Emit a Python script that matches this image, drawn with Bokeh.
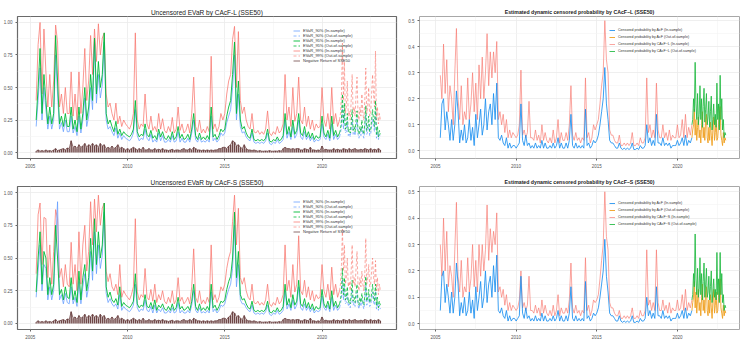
import numpy as np
from bokeh.plotting import figure
from bokeh.layouts import row, column
from bokeh.models import Range1d, FixedTicker, NumeralTickFormatter, Legend, LegendItem
from bokeh.embed import file_html
from bokeh.resources import INLINE

# ---------------------------------------------------------------- time grids
# in-sample: 2005.3 .. 2020.9 (step 0.1 yr); out-of-sample: 2020.9 .. 2023.0 (step 0.05 yr)
years_in = np.round(2005.3 + 0.1 * np.arange(157), 2)
years_out = np.round(2020.9 + 0.05 * np.arange(43), 2)
years_ret = np.round(2005.3 + 0.1 * np.arange(178), 2)

# ---------------------------------------------------------------- EVaR by CAcF-L
evar99_L_in = [
    0.40, 0.83, 1.00, 0.45, 0.95, 0.62, 0.35,
    0.60, 0.35, 0.55, 0.98, 0.85, 0.35, 0.45, 0.30, 0.50, 0.30,
    0.30, 0.62, 0.28, 0.45, 0.25, 0.62, 0.30, 0.50, 0.80, 0.40,
    0.55, 0.90, 0.60, 0.95, 0.70, 0.99, 0.75, 0.88, 0.92, 0.45,
    0.35, 0.38, 0.30, 0.25, 0.38, 0.22, 0.28, 0.20, 0.25, 0.22,
    0.20, 0.18, 0.22, 0.30, 0.92, 0.25, 0.18, 0.22, 0.20, 0.45,
    0.22, 0.18, 0.28, 0.17, 0.20, 0.16, 0.30, 0.18, 0.26, 0.17,
    0.15, 0.20, 0.16, 0.27, 0.15, 0.18, 0.35, 0.17, 0.22, 0.15,
    0.17, 0.22, 0.15, 0.30, 0.58, 0.20, 0.16, 0.25, 0.15, 0.18,
    0.15, 0.20, 0.16, 0.74, 0.18, 0.22, 0.16, 0.20, 0.30, 0.25,
    0.30, 0.45, 0.55, 0.60, 0.87, 0.97, 0.50, 0.93, 0.40, 0.30,
    0.35, 0.25, 0.20, 0.18, 0.30, 0.16, 0.15, 0.17, 0.14, 0.16,
    0.14, 0.18, 0.32, 0.15, 0.13, 0.16, 0.14, 0.20, 0.15, 0.17,
    0.22, 0.60, 0.25, 0.35, 0.20, 0.50, 0.24, 0.30, 0.58, 0.25,
    0.22, 0.35, 0.20, 0.28, 0.18, 0.25, 0.17, 0.22, 0.19, 0.20,
    0.50, 0.25, 0.20, 0.30, 0.18, 0.50, 0.22, 0.30, 0.20, 0.25,
]
evar95_L_in = [
    0.25, 0.50, 0.80, 0.30, 0.60, 0.40, 0.22,
    0.35, 0.22, 0.30, 0.90, 0.55, 0.22, 0.28, 0.20, 0.30, 0.20,
    0.20, 0.35, 0.18, 0.25, 0.16, 0.35, 0.18, 0.30, 0.50, 0.25,
    0.35, 0.60, 0.40, 0.88, 0.45, 0.70, 0.50, 0.60, 0.92, 0.30,
    0.22, 0.25, 0.20, 0.16, 0.24, 0.14, 0.18, 0.13, 0.16, 0.14,
    0.13, 0.12, 0.14, 0.18, 0.40, 0.16, 0.12, 0.14, 0.13, 0.22,
    0.14, 0.12, 0.17, 0.11, 0.13, 0.10, 0.18, 0.12, 0.16, 0.11,
    0.10, 0.13, 0.10, 0.16, 0.10, 0.12, 0.20, 0.11, 0.14, 0.10,
    0.11, 0.14, 0.10, 0.18, 0.30, 0.13, 0.10, 0.15, 0.10, 0.12,
    0.10, 0.13, 0.10, 0.35, 0.12, 0.14, 0.10, 0.13, 0.18, 0.16,
    0.18, 0.28, 0.35, 0.40, 0.60, 0.85, 0.30, 0.55, 0.25, 0.18,
    0.20, 0.15, 0.12, 0.11, 0.18, 0.10, 0.09, 0.10, 0.09, 0.10,
    0.09, 0.11, 0.18, 0.09, 0.08, 0.10, 0.09, 0.12, 0.09, 0.10,
    0.13, 0.30, 0.14, 0.20, 0.12, 0.25, 0.14, 0.17, 0.30, 0.15,
    0.13, 0.20, 0.12, 0.16, 0.11, 0.15, 0.10, 0.13, 0.11, 0.12,
    0.28, 0.15, 0.12, 0.17, 0.11, 0.28, 0.13, 0.17, 0.12, 0.15,
]
evar90_L_in = [
    0.20, 0.40, 0.65, 0.25, 0.50, 0.33, 0.18,
    0.28, 0.18, 0.25, 0.75, 0.45, 0.18, 0.23, 0.16, 0.25, 0.16,
    0.16, 0.28, 0.15, 0.20, 0.13, 0.28, 0.15, 0.25, 0.42, 0.20,
    0.28, 0.50, 0.33, 0.85, 0.38, 0.60, 0.42, 0.52, 0.85, 0.25,
    0.18, 0.20, 0.16, 0.13, 0.19, 0.11, 0.15, 0.10, 0.13, 0.11,
    0.10, 0.09, 0.11, 0.15, 0.33, 0.13, 0.09, 0.11, 0.10, 0.18,
    0.11, 0.09, 0.14, 0.08, 0.10, 0.08, 0.15, 0.09, 0.13, 0.08,
    0.08, 0.10, 0.08, 0.13, 0.08, 0.09, 0.16, 0.08, 0.11, 0.08,
    0.08, 0.11, 0.08, 0.15, 0.25, 0.10, 0.08, 0.12, 0.08, 0.09,
    0.08, 0.10, 0.08, 0.28, 0.09, 0.11, 0.08, 0.10, 0.15, 0.13,
    0.15, 0.23, 0.28, 0.33, 0.50, 0.75, 0.25, 0.45, 0.20, 0.15,
    0.16, 0.12, 0.10, 0.09, 0.15, 0.08, 0.07, 0.08, 0.07, 0.08,
    0.07, 0.09, 0.15, 0.07, 0.06, 0.08, 0.07, 0.10, 0.07, 0.08,
    0.10, 0.25, 0.11, 0.16, 0.10, 0.20, 0.11, 0.14, 0.25, 0.12,
    0.10, 0.16, 0.10, 0.13, 0.09, 0.12, 0.08, 0.10, 0.09, 0.10,
    0.22, 0.12, 0.10, 0.14, 0.09, 0.22, 0.10, 0.14, 0.10, 0.12,
]
evar99_L_out = [0.25, 0.30, 0.45, 0.84, 0.40, 0.70, 0.30, 0.35, 0.55, 0.28, 0.32, 0.25, 0.40, 0.60, 0.30,
                0.35, 0.28, 0.45, 0.58, 0.30, 0.25, 0.35, 0.28, 0.45, 0.30, 0.25, 0.40, 0.65, 0.30, 0.35,
                0.50, 0.28, 0.30, 0.45, 0.60, 0.45, 0.35, 0.78, 0.25, 0.35, 0.22, 0.30, 0.25]
evar95_L_out = [0.15, 0.18, 0.25, 0.45, 0.22, 0.38, 0.18, 0.20, 0.30, 0.16, 0.18, 0.15, 0.22, 0.33, 0.17,
                0.20, 0.16, 0.25, 0.32, 0.17, 0.14, 0.20, 0.16, 0.25, 0.17, 0.14, 0.22, 0.36, 0.17, 0.20,
                0.28, 0.16, 0.17, 0.25, 0.33, 0.25, 0.20, 0.40, 0.14, 0.20, 0.12, 0.17, 0.14]
evar90_L_out = [0.12, 0.15, 0.20, 0.36, 0.18, 0.30, 0.15, 0.16, 0.24, 0.13, 0.15, 0.12, 0.18, 0.26, 0.14,
                0.16, 0.13, 0.20, 0.26, 0.14, 0.11, 0.16, 0.13, 0.20, 0.14, 0.11, 0.18, 0.29, 0.14, 0.16,
                0.22, 0.13, 0.14, 0.20, 0.26, 0.20, 0.16, 0.32, 0.11, 0.16, 0.10, 0.14, 0.11]

# ---------------------------------------------------------------- EVaR by CAcF-S
evar99_S_in = [
    0.38, 0.83, 0.92, 0.45, 0.81, 0.80, 0.35,
    0.60, 0.30, 0.55, 0.87, 0.80, 0.35, 0.42, 0.28, 0.45, 0.30,
    0.28, 0.62, 0.30, 0.45, 0.25, 0.70, 0.30, 0.60, 0.75, 0.40,
    0.55, 0.93, 0.60, 0.95, 0.70, 0.98, 0.75, 0.88, 0.92, 0.40,
    0.32, 0.38, 0.28, 0.25, 0.30, 0.22, 0.45, 0.20, 0.25, 0.22,
    0.20, 0.18, 0.22, 0.28, 0.80, 0.24, 0.18, 0.22, 0.20, 0.42,
    0.20, 0.18, 0.26, 0.17, 0.30, 0.16, 0.22, 0.18, 0.25, 0.17,
    0.15, 0.20, 0.16, 0.25, 0.15, 0.18, 0.35, 0.17, 0.20, 0.15,
    0.17, 0.20, 0.15, 0.28, 0.57, 0.20, 0.16, 0.25, 0.15, 0.18,
    0.15, 0.20, 0.16, 0.60, 0.18, 0.22, 0.16, 0.20, 0.28, 0.25,
    0.30, 0.42, 0.50, 0.55, 0.78, 0.98, 0.60, 0.88, 0.35, 0.30,
    0.35, 0.25, 0.20, 0.18, 0.30, 0.16, 0.15, 0.17, 0.14, 0.16,
    0.14, 0.18, 0.30, 0.15, 0.13, 0.16, 0.14, 0.20, 0.15, 0.17,
    0.22, 0.60, 0.25, 0.33, 0.20, 0.45, 0.24, 0.30, 0.67, 0.25,
    0.22, 0.33, 0.20, 0.28, 0.18, 0.25, 0.17, 0.22, 0.19, 0.20,
    0.45, 0.25, 0.20, 0.30, 0.18, 0.43, 0.22, 0.30, 0.20, 0.25,
]
evar95_S_in = [
    0.24, 0.50, 0.70, 0.30, 0.55, 0.50, 0.22,
    0.35, 0.22, 0.30, 0.75, 0.50, 0.22, 0.26, 0.18, 0.28, 0.20,
    0.19, 0.35, 0.18, 0.25, 0.16, 0.40, 0.18, 0.35, 0.45, 0.25,
    0.35, 0.65, 0.40, 0.80, 0.45, 0.70, 0.50, 0.60, 0.92, 0.28,
    0.20, 0.24, 0.18, 0.16, 0.19, 0.14, 0.28, 0.13, 0.16, 0.14,
    0.13, 0.12, 0.14, 0.17, 0.38, 0.15, 0.12, 0.14, 0.13, 0.22,
    0.13, 0.12, 0.16, 0.11, 0.18, 0.10, 0.14, 0.12, 0.15, 0.11,
    0.10, 0.13, 0.10, 0.15, 0.10, 0.12, 0.20, 0.11, 0.13, 0.10,
    0.11, 0.13, 0.10, 0.17, 0.30, 0.13, 0.10, 0.15, 0.10, 0.12,
    0.10, 0.13, 0.10, 0.30, 0.12, 0.14, 0.10, 0.13, 0.17, 0.16,
    0.18, 0.26, 0.32, 0.36, 0.50, 0.85, 0.35, 0.55, 0.22, 0.18,
    0.19, 0.15, 0.12, 0.11, 0.17, 0.10, 0.09, 0.10, 0.09, 0.10,
    0.09, 0.11, 0.17, 0.09, 0.08, 0.10, 0.09, 0.12, 0.09, 0.10,
    0.13, 0.30, 0.14, 0.19, 0.12, 0.22, 0.14, 0.17, 0.33, 0.15,
    0.13, 0.19, 0.12, 0.16, 0.11, 0.15, 0.10, 0.13, 0.11, 0.12,
    0.26, 0.15, 0.12, 0.17, 0.11, 0.25, 0.13, 0.17, 0.12, 0.15,
]
evar90_S_in = [
    0.20, 0.40, 0.60, 0.25, 0.45, 0.42, 0.18,
    0.28, 0.18, 0.25, 0.60, 0.93, 0.18, 0.22, 0.15, 0.23, 0.16,
    0.15, 0.28, 0.15, 0.20, 0.13, 0.32, 0.15, 0.28, 0.38, 0.20,
    0.28, 0.55, 0.33, 0.70, 0.38, 0.60, 0.42, 0.52, 0.85, 0.23,
    0.16, 0.19, 0.15, 0.13, 0.15, 0.11, 0.22, 0.10, 0.13, 0.11,
    0.10, 0.09, 0.11, 0.14, 0.30, 0.12, 0.09, 0.11, 0.10, 0.18,
    0.10, 0.09, 0.13, 0.08, 0.14, 0.08, 0.11, 0.09, 0.12, 0.08,
    0.08, 0.10, 0.08, 0.12, 0.08, 0.09, 0.16, 0.08, 0.10, 0.08,
    0.08, 0.10, 0.08, 0.14, 0.25, 0.10, 0.08, 0.12, 0.08, 0.09,
    0.08, 0.10, 0.08, 0.24, 0.09, 0.11, 0.08, 0.10, 0.14, 0.13,
    0.15, 0.21, 0.26, 0.30, 0.42, 0.75, 0.28, 0.45, 0.18, 0.15,
    0.15, 0.12, 0.10, 0.09, 0.14, 0.08, 0.07, 0.08, 0.07, 0.08,
    0.07, 0.09, 0.14, 0.07, 0.06, 0.08, 0.07, 0.10, 0.07, 0.08,
    0.10, 0.25, 0.11, 0.15, 0.10, 0.18, 0.11, 0.14, 0.28, 0.12,
    0.10, 0.15, 0.10, 0.13, 0.09, 0.12, 0.08, 0.10, 0.09, 0.10,
    0.21, 0.12, 0.10, 0.14, 0.09, 0.20, 0.10, 0.14, 0.10, 0.12,
]
evar99_S_out = [0.25, 0.30, 0.45, 0.72, 0.40, 0.60, 0.30, 0.35, 0.50, 0.28, 0.32, 0.25, 0.40, 0.60, 0.30,
                0.35, 0.28, 0.42, 0.55, 0.30, 0.25, 0.35, 0.28, 0.40, 0.30, 0.25, 0.38, 0.65, 0.30, 0.35,
                0.45, 0.28, 0.30, 0.40, 0.50, 0.35, 0.30, 0.48, 0.25, 0.35, 0.22, 0.30, 0.25]
evar95_S_out = [0.15, 0.18, 0.25, 0.42, 0.22, 0.35, 0.18, 0.20, 0.28, 0.16, 0.18, 0.15, 0.22, 0.33, 0.17,
                0.20, 0.16, 0.24, 0.30, 0.17, 0.14, 0.20, 0.16, 0.23, 0.17, 0.14, 0.21, 0.36, 0.17, 0.20,
                0.26, 0.16, 0.17, 0.23, 0.30, 0.20, 0.17, 0.30, 0.14, 0.20, 0.12, 0.17, 0.14]
evar90_S_out = [0.12, 0.15, 0.20, 0.34, 0.18, 0.28, 0.15, 0.16, 0.23, 0.13, 0.15, 0.12, 0.18, 0.26, 0.14,
                0.16, 0.13, 0.19, 0.24, 0.14, 0.11, 0.16, 0.13, 0.19, 0.14, 0.11, 0.17, 0.29, 0.14, 0.16,
                0.21, 0.13, 0.14, 0.19, 0.24, 0.16, 0.14, 0.25, 0.11, 0.16, 0.10, 0.14, 0.11]

# ---------------------------------------------------------------- negative return of SSE50
neg_return = [
    0.010, 0.020, 0.010, 0.015, 0.010, 0.020, 0.012,
    0.015, 0.010, 0.020, 0.030, 0.015, 0.020, 0.025, 0.030, 0.020, 0.035,
    0.030, 0.090, 0.040, 0.050, 0.030, 0.060, 0.040, 0.050, 0.070, 0.040,
    0.060, 0.050, 0.070, 0.050, 0.060, 0.040, 0.070, 0.050, 0.060, 0.030,
    0.040, 0.030, 0.050, 0.030, 0.040, 0.060, 0.030, 0.040, 0.030, 0.020,
    0.030, 0.020, 0.030, 0.040, 0.030, 0.020, 0.030, 0.020, 0.040, 0.020,
    0.020, 0.030, 0.020, 0.020, 0.030, 0.020, 0.025, 0.020, 0.030, 0.020,
    0.020, 0.015, 0.020, 0.025, 0.015, 0.020, 0.020, 0.015, 0.025, 0.030,
    0.020, 0.020, 0.030, 0.020, 0.040, 0.030, 0.020, 0.020, 0.015, 0.020,
    0.015, 0.020, 0.015, 0.020, 0.015, 0.020, 0.020, 0.030, 0.030, 0.040,
    0.040, 0.030, 0.050, 0.060, 0.090, 0.080, 0.050, 0.060, 0.040, 0.030,
    0.060, 0.030, 0.020, 0.020, 0.015, 0.020, 0.015, 0.010, 0.015, 0.010,
    0.010, 0.012, 0.010, 0.015, 0.010, 0.010, 0.012, 0.010, 0.015, 0.010,
    0.030, 0.040, 0.030, 0.030, 0.025, 0.030, 0.025, 0.030, 0.030, 0.020,
    0.020, 0.030, 0.025, 0.020, 0.040, 0.020, 0.020, 0.015, 0.020, 0.015,
    0.050, 0.020, 0.025, 0.020, 0.020, 0.020, 0.030, 0.020, 0.025, 0.020,
    0.020, 0.030, 0.025, 0.020, 0.030, 0.020, 0.025, 0.030, 0.020, 0.020,
    0.025, 0.020, 0.030, 0.025, 0.020, 0.030, 0.020, 0.025, 0.020, 0.030,
    0.020,
]

# ---------------------------------------------------------------- censored probabilities
acf_in = [
    0.05, 0.18, 0.20, 0.08, 0.15, 0.10, 0.04,
    0.12, 0.04, 0.10, 0.23, 0.15, 0.03, 0.08, 0.04, 0.10, 0.03,
    0.05, 0.12, 0.04, 0.09, 0.02, 0.14, 0.05, 0.10, 0.16, 0.06,
    0.10, 0.20, 0.08, 0.15, 0.18, 0.10, 0.22, 0.12, 0.26, 0.05,
    0.04, 0.06, 0.03, 0.02, 0.05, 0.01, 0.03, 0.01, 0.02, 0.02,
    0.01, 0.02, 0.03, 0.18, 0.04, 0.02, 0.06, 0.02, 0.03, 0.01,
    0.02, 0.01, 0.03, 0.01, 0.02, 0.01, 0.04, 0.01, 0.03, 0.01,
    0.01, 0.02, 0.01, 0.03, 0.01, 0.02, 0.05, 0.01, 0.03, 0.01,
    0.01, 0.03, 0.01, 0.04, 0.14, 0.02, 0.01, 0.03, 0.01, 0.02,
    0.01, 0.02, 0.01, 0.16, 0.02, 0.03, 0.01, 0.02, 0.04, 0.03,
    0.04, 0.06, 0.10, 0.15, 0.20, 0.32, 0.18, 0.12, 0.04, 0.03,
    0.03, 0.02, 0.01, 0.01, 0.03, 0.01, 0.005, 0.01, 0.005, 0.01,
    0.005, 0.01, 0.03, 0.005, 0.005, 0.01, 0.005, 0.02, 0.01, 0.01,
    0.02, 0.10, 0.03, 0.05, 0.02, 0.04, 0.02, 0.14, 0.03, 0.03,
    0.02, 0.05, 0.02, 0.03, 0.02, 0.03, 0.01, 0.02, 0.02, 0.02,
    0.04, 0.02, 0.03, 0.05, 0.02, 0.06, 0.02, 0.04, 0.03, 0.05,
]
acf_out = [0.05, 0.08, 0.10, 0.16, 0.06, 0.12, 0.04, 0.09, 0.13, 0.05, 0.08, 0.03, 0.10, 0.15, 0.05,
           0.09, 0.04, 0.12, 0.14, 0.05, 0.03, 0.09, 0.04, 0.11, 0.06, 0.02, 0.08, 0.13, 0.04, 0.07,
           0.12, 0.04, 0.05, 0.10, 0.14, 0.17, 0.06, 0.04, 0.02, 0.07, 0.03, 0.05, 0.04]
cacf_L_in = [
    0.29, 0.20, 0.41, 0.22, 0.35, 0.15, 0.25,
    0.20, 0.10, 0.30, 0.47, 0.20, 0.12, 0.25, 0.10, 0.15, 0.12,
    0.28, 0.12, 0.18, 0.30, 0.15, 0.26, 0.12, 0.33, 0.20, 0.36,
    0.20, 0.30, 0.45, 0.25, 0.38, 0.28, 0.38, 0.30, 0.42, 0.12,
    0.15, 0.10, 0.14, 0.07, 0.12, 0.05, 0.08, 0.05, 0.07, 0.06,
    0.05, 0.06, 0.10, 0.31, 0.06, 0.08, 0.05, 0.07, 0.19, 0.05,
    0.05, 0.04, 0.08, 0.04, 0.06, 0.03, 0.10, 0.04, 0.07, 0.04,
    0.03, 0.05, 0.03, 0.08, 0.03, 0.05, 0.12, 0.03, 0.07, 0.04,
    0.04, 0.07, 0.04, 0.10, 0.25, 0.06, 0.04, 0.07, 0.04, 0.05,
    0.03, 0.05, 0.04, 0.28, 0.05, 0.07, 0.03, 0.05, 0.10, 0.08,
    0.10, 0.12, 0.18, 0.25, 0.30, 0.50, 0.35, 0.30, 0.08, 0.06,
    0.06, 0.04, 0.03, 0.03, 0.06, 0.02, 0.02, 0.03, 0.02, 0.03,
    0.02, 0.03, 0.07, 0.02, 0.02, 0.03, 0.02, 0.05, 0.03, 0.03,
    0.05, 0.28, 0.07, 0.10, 0.05, 0.08, 0.05, 0.26, 0.08, 0.05,
    0.05, 0.10, 0.05, 0.07, 0.04, 0.08, 0.04, 0.06, 0.05, 0.05,
    0.10, 0.05, 0.06, 0.12, 0.05, 0.14, 0.05, 0.09, 0.06, 0.10,
]
cacf_L_out = [0.10, 0.12, 0.20, 0.15, 0.34, 0.18, 0.12, 0.22, 0.10, 0.14, 0.25, 0.12, 0.20, 0.09, 0.17,
              0.24, 0.11, 0.16, 0.22, 0.10, 0.13, 0.19, 0.09, 0.15, 0.21, 0.08, 0.12, 0.18, 0.10, 0.14,
              0.09, 0.26, 0.12, 0.18, 0.08, 0.29, 0.12, 0.20, 0.08, 0.12, 0.05, 0.07, 0.06]
cacf_S_in = [
    0.30, 0.18, 0.40, 0.20, 0.35, 0.14, 0.22,
    0.18, 0.10, 0.28, 0.46, 0.18, 0.12, 0.24, 0.10, 0.14, 0.12,
    0.25, 0.12, 0.17, 0.30, 0.14, 0.24, 0.12, 0.30, 0.18, 0.30,
    0.20, 0.28, 0.45, 0.24, 0.36, 0.27, 0.35, 0.30, 0.42, 0.12,
    0.14, 0.10, 0.13, 0.07, 0.11, 0.05, 0.08, 0.05, 0.07, 0.06,
    0.05, 0.06, 0.09, 0.20, 0.06, 0.08, 0.05, 0.07, 0.18, 0.05,
    0.05, 0.04, 0.07, 0.04, 0.06, 0.03, 0.09, 0.04, 0.07, 0.04,
    0.03, 0.05, 0.03, 0.07, 0.03, 0.05, 0.11, 0.03, 0.06, 0.04,
    0.04, 0.06, 0.04, 0.09, 0.23, 0.06, 0.04, 0.07, 0.04, 0.05,
    0.03, 0.05, 0.04, 0.25, 0.05, 0.07, 0.03, 0.05, 0.09, 0.08,
    0.09, 0.11, 0.17, 0.24, 0.30, 0.50, 0.33, 0.28, 0.08, 0.06,
    0.06, 0.04, 0.03, 0.03, 0.05, 0.02, 0.02, 0.03, 0.02, 0.03,
    0.02, 0.03, 0.06, 0.02, 0.02, 0.03, 0.02, 0.05, 0.03, 0.03,
    0.05, 0.28, 0.07, 0.09, 0.05, 0.08, 0.05, 0.28, 0.08, 0.05,
    0.05, 0.09, 0.05, 0.07, 0.04, 0.08, 0.04, 0.06, 0.05, 0.05,
    0.09, 0.05, 0.06, 0.11, 0.05, 0.13, 0.05, 0.08, 0.06, 0.09,
]
cacf_S_out = [0.09, 0.11, 0.19, 0.14, 0.34, 0.17, 0.11, 0.21, 0.10, 0.13, 0.25, 0.11, 0.19, 0.09, 0.16,
              0.23, 0.10, 0.15, 0.21, 0.10, 0.12, 0.18, 0.09, 0.14, 0.20, 0.08, 0.12, 0.17, 0.10, 0.13,
              0.09, 0.27, 0.11, 0.17, 0.08, 0.27, 0.11, 0.19, 0.08, 0.11, 0.05, 0.07, 0.06]

for s in (evar99_L_in, evar95_L_in, evar90_L_in, evar99_S_in, evar95_S_in, evar90_S_in,
          acf_in, cacf_L_in, cacf_S_in):
    assert len(s) == len(years_in), len(s)
for s in (evar99_L_out, evar95_L_out, evar90_L_out, evar99_S_out, evar95_S_out, evar90_S_out,
          acf_out, cacf_L_out, cacf_S_out):
    assert len(s) == len(years_out), len(s)
assert len(neg_return) == len(years_ret), len(neg_return)

year_ticks = [2005, 2010, 2015, 2020]
evar_ticks = [0.0, 0.25, 0.5, 0.75, 1.0]
prob_ticks = [0.0, 0.1, 0.2, 0.3, 0.4, 0.5]

C90, C95, C99, CRET = "#619CFF", "#00BA38", "#F8766D", "#6E4646"
C_ACF_IN, C_ACF_OUT, C_CACF_IN, C_CACF_OUT = "#1C8FF0", "#F0A020", "#F8766D", "#1DB83E"
FONT = "Liberation Sans"


def base_figure(width, height, borders, xr, yr, title, title_size, title_style, standoff,
                yticks, yminor, yfmt, outline_color, outline_width):
    top, right, bottom, left = borders
    p = figure(width=width, height=height, x_range=Range1d(*xr), y_range=Range1d(*yr),
               output_backend="svg", toolbar_location=None, title=title,
               min_border_top=top, min_border_right=right, min_border_bottom=bottom,
               min_border_left=left, background_fill_color="white", border_fill_color="white")
    p.title.align = "center"
    p.title.text_font = FONT
    p.title.text_font_size = title_size
    p.title.text_font_style = title_style
    p.title.text_color = "#1a1a1a"
    p.title.standoff = standoff
    p.title.offset = 0
    p.xaxis.ticker = FixedTicker(ticks=year_ticks, minor_ticks=[2007.5, 2012.5, 2017.5, 2022.5])
    p.yaxis.ticker = FixedTicker(ticks=yticks, minor_ticks=yminor)
    p.yaxis.formatter = NumeralTickFormatter(format=yfmt)
    for ax in p.axis:
        ax.axis_line_color = None
        ax.major_tick_line_color = "#666666"
        ax.major_tick_out = 2
        ax.major_tick_in = 0
        ax.minor_tick_line_color = None
        ax.major_label_text_font = FONT
        ax.major_label_text_font_size = "4.5px"
        ax.major_label_text_color = "#555555"
        ax.major_label_standoff = 1
    for g in (p.xgrid, p.ygrid):
        g.grid_line_color = "#EBEBEB"
        g.grid_line_width = 0.8
        g.minor_grid_line_color = "#F3F3F3"
        g.minor_grid_line_width = 0.6
    p.outline_line_color = outline_color
    p.outline_line_width = outline_width
    return p


def evar_panel(title, e90_in, e90_out, e95_in, e95_out, e99_in, e99_out, borders, legend_loc):
    p = base_figure(405, 172, borders, (2004.34, 2023.83), (-0.046, 1.046), title, "6.5px",
                    "normal", 2, evar_ticks, [0.125, 0.375, 0.625, 0.875], "0.00", "#6a6a6a", 1.2)
    r99i = p.line(years_in, e99_in, line_color=C99, line_width=1.0, line_alpha=0.75)
    r99o = p.line(years_out, e99_out, line_color=C99, line_width=0.9, line_alpha=0.7, line_dash="3 2")
    r90i = p.line(years_in, e90_in, line_color=C90, line_width=1.0, line_alpha=0.75)
    r90o = p.line(years_out, e90_out, line_color=C90, line_width=0.9, line_alpha=0.8, line_dash="3 2")
    r95i = p.line(years_in, e95_in, line_color=C95, line_width=1.0, line_alpha=0.9)
    r95o = p.line(years_out, e95_out, line_color=C95, line_width=0.9, line_alpha=0.9, line_dash="3 2")
    p.segment(x0=years_ret, y0=0, x1=years_ret, y1=neg_return, line_color=CRET, line_width=1.4)
    rret = p.line(years_ret, neg_return, line_color=CRET, line_width=0.8)
    items = [
        LegendItem(label="EVaR_90% (In-sample)", renderers=[r90i]),
        LegendItem(label="EVaR_90% (Out-of-sample)", renderers=[r90o]),
        LegendItem(label="EVaR_95% (In-sample)", renderers=[r95i]),
        LegendItem(label="EVaR_95% (Out-of-sample)", renderers=[r95o]),
        LegendItem(label="EVaR_99% (In-sample)", renderers=[r99i]),
        LegendItem(label="EVaR_99% (Out-of-sample)", renderers=[r99o]),
        LegendItem(label="Negative Return of SSE50", renderers=[rret]),
    ]
    leg = Legend(items=items, location=legend_loc, label_text_font=FONT,
                 label_text_font_size="4px", label_text_color="#333333",
                 glyph_width=7, glyph_height=5, label_height=5, label_standoff=3,
                 spacing=0, padding=0, margin=0,
                 background_fill_alpha=0, border_line_alpha=0)
    p.add_layout(leg)
    return p


def prob_panel(title, model, c_in, c_out, borders, yr, legend_loc):
    p = base_figure(344, 172, borders, (2004.01, 2023.85), yr, title, "5.2px", "bold", 3,
                    prob_ticks, [0.05, 0.15, 0.25, 0.35, 0.45], "0.0", "#a8a8a8", 1.0)
    rci = p.line(years_in, c_in, line_color=C_CACF_IN, line_width=1.0, line_alpha=0.65)
    rai = p.line(years_in, acf_in, line_color=C_ACF_IN, line_width=1.0, line_alpha=0.85)
    rao = p.line(years_out, acf_out, line_color=C_ACF_OUT, line_width=1.0, line_alpha=0.9)
    rco = p.line(years_out, c_out, line_color=C_CACF_OUT, line_width=1.0, line_alpha=0.85)
    items = [
        LegendItem(label="Censored probability by AcF (In-sample)", renderers=[rai]),
        LegendItem(label="Censored probability by AcF (Out-of-sample)", renderers=[rao]),
        LegendItem(label=f"Censored probability by {model} (In-sample)", renderers=[rci]),
        LegendItem(label=f"Censored probability by {model} (Out-of-sample)", renderers=[rco]),
    ]
    leg = Legend(items=items, location=legend_loc, label_text_font=FONT,
                 label_text_font_size="3.6px", label_text_color="#333333",
                 glyph_width=6, glyph_height=6, label_height=6, label_standoff=3,
                 spacing=1, padding=0, margin=0,
                 background_fill_alpha=0, border_line_alpha=0)
    p.add_layout(leg)
    return p


p1 = evar_panel("Uncensored EVaR by CAcF-L (SSE50)",
                evar90_L_in, evar90_L_out, evar95_L_in, evar95_L_out, evar99_L_in, evar99_L_out,
                (16, 9, 14, 14), (276, 95))
p2 = prob_panel("Estimated dynamic censored probability by CAcF\u2212L (SSE50)", "CAcF\u2212L",
                cacf_L_in, cacf_L_out, (15, 10, 10, 14), (-0.0297, 0.516), (190, 104))
p3 = evar_panel("Uncensored EVaR by CAcF-S (SSE50)",
                evar90_S_in, evar90_S_out, evar95_S_in, evar95_S_out, evar99_S_in, evar99_S_out,
                (14, 9, 15, 14), (276, 95))
p4 = prob_panel("Estimated dynamic censored probability by CAcF\u2212S (SSE50)", "CAcF\u2212S",
                cacf_S_in, cacf_S_out, (13, 10, 13, 14), (-0.022, 0.52), (190, 102))

layout = column(row(p1, p2, spacing=0), row(p3, p4, spacing=0), spacing=0)

with open("out.html", "w") as f:
    f.write(file_html(layout, INLINE))
